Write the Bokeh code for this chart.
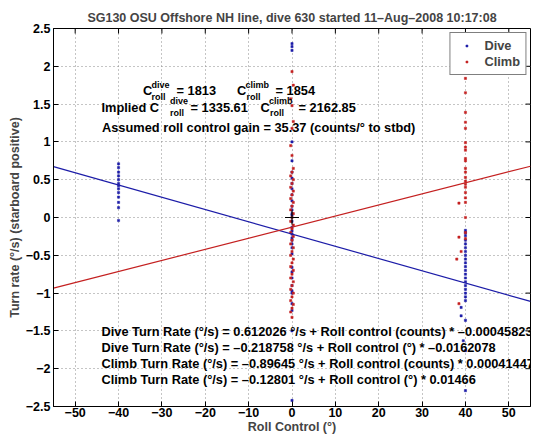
import math
from bokeh.plotting import figure
from bokeh.models import (Label, FixedTicker, Legend, LegendItem,
                          Range1d, ColumnDataSource)
from bokeh.embed import file_html
from bokeh.resources import INLINE

# ---------------- data ----------------
title_text = "SG130 OSU Offshore NH line, dive 630 started 11–Aug–2008 10:17:08"

x_min, x_max = -55, 55
y_min, y_max = -2.5, 2.5
x_ticks = [-50, -40, -30, -20, -10, 0, 10, 20, 30, 40, 50]
x_tick_labels = ["−50", "−40", "−30", "−20", "−10", "0", "10", "20", "30", "40", "50"]
y_ticks = [-2.5, -2, -1.5, -1, -0.5, 0, 0.5, 1, 1.5, 2, 2.5]
y_tick_labels = ["−2.5", "−2", "−1.5", "−1", "−0.5", "0", "0.5", "1", "1.5", "2", "2.5"]

dive_roll = [
    -40, -40, -40, -40, -40, -40, -40, -40, -40, -40, -40, -40, -40,
    0, 0, 0, 0, 0, 0, 0, 0, 0, 0, 0, 0, 0, 0, 0, 0, 0, 0, 0, 0, 0,
    0, 0, 0, 0, 0, 0, 0, 0, 0, 0, 0, 0, 0,
    40, 40, 40, 40, 40, 40, 40, 40, 40, 40, 40, 40, 40, 40, 40, 40,
    40, 40, 40, 40, 39, 39, 40, 39.5, 40, 40,
]
dive_rate = [
    0.71, 0.66, 0.60, 0.55, 0.50, 0.45, 0.42, 0.38, 0.33, 0.27, 0.20, 0.13, -0.04,
    2.30, 2.26, 2.21, 1.00, 0.75, 0.60, 0.52, 0.45, 0.38, 0.30, 0.22, 0.15, 0.10,
    0.05, 0.03, -0.05, -0.13, -0.18, -0.22, -0.27, -0.30, -0.35, -0.40, -0.48,
    -0.66, -0.72, -0.80, -0.90, -0.97, -1.00, -1.14, -1.23, -1.50, -2.42,
    -0.17, -0.20, -0.24, -0.30, -0.35, -0.40, -0.45, -0.50, -0.55, -0.60, -0.65,
    -0.70, -0.75, -0.80, -0.85, -0.90, -0.95, -1.00, -1.05, -1.10, -1.19, -1.30,
    -1.36, -1.63, -1.76, -2.29,
]

climb_roll = [
    0, 0.3, -0.3, 0, 0.3, 0, -0.3, 0, 0.3, 0, -0.3, 0.3, 0, -0.3, 0.3, 0,
    -0.3, 0.3, 0, -0.3, 0.3, 0, -0.3, 0.3, 0, -0.3, 0.3, 0, -0.3, 0.3, 0,
    -0.3, 0.3, 0, -0.3, 0.3, 0, -0.3, 0.3, 0, -0.3, 0.3, 0, -0.3, 0.3, 0,
    -0.3, 0,
    40, 40, 40, 40, 40, 40, 40, 40, 40, 40, 40, 40, 40, 40, 40, 40, 40, 40,
    40, 38.5, 40, 38.5, 40, 40, 39, 38, 38.5,
]
climb_rate = [
    1.93, 1.75, 1.57, 1.48, 1.27, 1.18, 0.95, 0.82, 0.65, 0.60, 0.55, 0.50,
    0.45, 0.40, 0.35, 0.30, 0.25, 0.20, 0.15, 0.10, 0.05, 0.00, -0.05, -0.10,
    -0.15, -0.20, -0.25, -0.30, -0.35, -0.40, -0.45, -0.50, -0.55, -0.60,
    -0.65, -0.70, -0.75, -0.80, -0.85, -0.90, -0.95, -1.00, -1.05, -1.10,
    -1.15, -1.20, -1.25, -1.32,
    1.84, 1.65, 1.39, 1.26, 1.18, 0.99, 0.93, 0.89, 0.78, 0.75, 0.65, 0.60,
    0.53, 0.48, 0.44, 0.40, 0.33, 0.26, 0.20, 0.19, 0.00, -0.26, -0.20, -0.28,
    -0.45, -0.55, -1.14,
]

# fitted turn-rate lines (intercept in deg/s, slope per degree of roll)
dive_intercept, dive_slope = -0.218758, -0.0162078
climb_intercept, climb_slope = -0.12801, 0.01466
line_x = [x_min, x_max]

header_lines = [
    "= 1813", "= 1854", "= 1335.61", "= 2162.85",
    "Assumed roll control gain = 35.37 (counts/° to stbd)",
]
equation_lines = [
    "Dive Turn Rate (°/s) = 0.612026 °/s + Roll control (counts) * –0.000458237",
    "Dive Turn Rate (°/s) = –0.218758 °/s + Roll control (°) * –0.0162078",
    "Climb Turn Rate (°/s) = –0.89645 °/s + Roll control (counts) * 0.000414477",
    "Climb Turn Rate (°/s) = –0.12801 °/s + Roll control (°) * 0.01466",
]

# ---------------- styling ----------------
FONT = "Liberation Sans"
BLUE = "#1c1ca8"
RED = "#c42020"
TXT = "12.8px"

p = figure(frame_width=477, frame_height=378,
           x_range=Range1d(x_min, x_max), y_range=Range1d(y_min, y_max),
           output_backend="svg", toolbar_location=None,
           min_border_left=53, min_border_right=11, min_border_top=28, min_border_bottom=36)

p.title.text = title_text
p.title.align = "center"
p.title.text_font = FONT
p.title.text_font_size = "12.5px"
p.title.text_font_style = "bold"
p.title.standoff = 7

p.outline_line_color = "black"
p.background_fill_color = "white"

xt = FixedTicker(ticks=x_ticks)
yt = FixedTicker(ticks=y_ticks)

for ax, ticks, labels in ((p.xaxis[0], xt, dict(zip(x_ticks, x_tick_labels))),
                          (p.yaxis[0], yt, dict(zip(y_ticks, y_tick_labels)))):
    ax.ticker = ticks
    ax.major_label_overrides = labels
    ax.major_tick_in = 5
    ax.major_tick_out = 0
    ax.minor_tick_in = 0
    ax.minor_tick_out = 0
    ax.major_label_text_font = FONT
    ax.major_label_text_font_style = "bold"
    ax.major_label_text_font_size = "12.5px"
    ax.major_label_text_color = "black"
    ax.axis_label_text_font = FONT
    ax.axis_label_text_font_style = "bold"
    ax.axis_label_text_font_size = "12.5px"
    ax.axis_line_color = "black"
    ax.major_tick_line_color = "black"

p.xaxis[0].axis_label = "Roll Control (°)"
p.xaxis[0].axis_label_standoff = 0
p.xaxis[0].major_label_standoff = 1
p.yaxis[0].axis_label = "Turn rate (°/s) (starboard positive)"
p.yaxis[0].axis_label_standoff = 1
p.yaxis[0].major_label_standoff = 3

# inward ticks on the top and right edges of the box
p.ray(x=x_ticks, y=[y_max] * len(x_ticks), length=5, length_units="screen",
      angle=-math.pi / 2, line_color="black", line_width=1)
p.ray(x=[x_max] * len(y_ticks), y=y_ticks, length=5, length_units="screen",
      angle=math.pi, line_color="black", line_width=1)

for g, t in ((p.xgrid[0], xt), (p.ygrid[0], yt)):
    g.ticker = t
    g.grid_line_color = "#8a8a8a"
    g.grid_line_dash = "1 3"
    g.grid_line_width = 1

# data
dsrc = ColumnDataSource(dict(x=dive_roll, y=dive_rate))
csrc = ColumnDataSource(dict(x=climb_roll, y=climb_rate))
r_dive = p.scatter("x", "y", source=dsrc, marker="square", size=2.2,
                   fill_color=BLUE, line_color=BLUE, line_width=0.5)
r_climb = p.scatter("x", "y", source=csrc, marker="square", size=2.2,
                    fill_color=RED, line_color=RED, line_width=0.5)

p.line(line_x, [dive_intercept + dive_slope * v for v in line_x],
       line_color=BLUE, line_width=1.2)
p.line(line_x, [climb_intercept + climb_slope * v for v in line_x],
       line_color=RED, line_width=1.2)

p.scatter([0], [0], marker="cross", size=14, line_color="black", line_width=1.2)

legend = Legend(items=[LegendItem(label="Dive", renderers=[r_dive]),
                       LegendItem(label="Climb", renderers=[r_climb])],
                location="top_right", margin=4, padding=5, spacing=1,
                glyph_width=22, glyph_height=5, label_height=13,
                label_standoff=7,
                label_text_font=FONT, label_text_font_style="bold",
                label_text_font_size=TXT, border_line_color="black",
                border_line_width=1, background_fill_alpha=1.0)
p.add_layout(legend)

# ---------------- text annotations ----------------
FL, FR, FT, FB = 53.0, 530.0, 28.0, 406.0


def px2x(px):
    return x_min + (px - FL) * (x_max - x_min) / (FR - FL)


def py2y(py):
    return y_max - (py - FT) * (y_max - y_min) / (FB - FT)


def txt(px, py, s, size=TXT):
    p.add_layout(Label(x=px2x(px), y=py2y(py), text=s, text_font=FONT,
                       text_font_style="bold", text_font_size=size,
                       text_baseline="middle", text_align="left",
                       text_color="black"))


SUB = "9px"
# line 1
txt(142.5, 90, "C")
txt(151, 84.5, "dive", SUB)
txt(151, 96.5, "roll", SUB)
txt(176, 90, header_lines[0])
txt(236.5, 90, "C")
txt(245, 84.5, "climb", SUB)
txt(246, 96.5, "roll", SUB)
txt(275, 90, header_lines[1])
# line 2
txt(101, 106.5, "Implied C")
txt(169.5, 100.5, "dive", SUB)
txt(169.5, 112.5, "roll", SUB)
txt(190, 106.5, header_lines[2])
txt(260, 106.5, "C")
txt(268.5, 100.5, "climb", SUB)
txt(269.5, 112.5, "roll", SUB)
txt(298, 106.5, header_lines[3])
# line 3
txt(101.5, 127, header_lines[4])

for i, s in enumerate(equation_lines):
    txt(101, 331 + i * 16, s)

open("out.html", "w").write(file_html(p, INLINE))
